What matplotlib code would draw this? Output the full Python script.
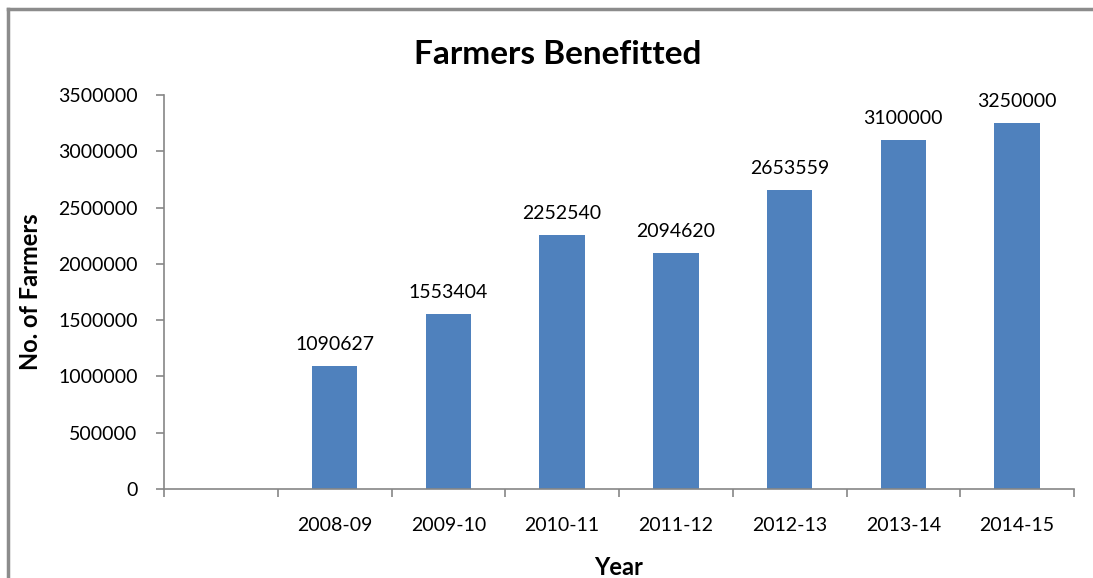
import numpy as np
import matplotlib.pyplot as plt
from matplotlib.lines import Line2D

plt.rcParams['font.family'] = ['Lato', 'DejaVu Sans']

# data
years = ['', '2008-09', '2009-10', '2010-11', '2011-12', '2012-13', '2013-14', '2014-15']
farmers = [0, 1090627, 1553404, 2252540, 2094620, 2653559, 3100000, 3250000]
yticks = [0, 500000, 1000000, 1500000, 2000000, 2500000, 3000000, 3500000]

fig = plt.figure(figsize=(10.93, 5.78), dpi=100)
ax = fig.add_axes([164 / 1093, 1 - 489 / 578, (1074 - 164) / 1093, (489 - 95) / 578])

x = np.arange(len(years))
shown = [i for i in x if years[i] != '']
bars = ax.bar([x[i] for i in shown], [farmers[i] for i in shown], width=0.4, color='#4f81bd')

for i in shown:
    ax.text(x[i], farmers[i] + 120000, str(farmers[i]), ha='center', va='bottom', fontsize=14)

ax.set_xlim(-0.5, len(years) - 0.5)
ax.set_ylim(0, 3500000)
ax.set_yticks(yticks)
ax.set_yticklabels([str(v) for v in yticks], fontsize=14)
ax.set_xticks(x)
ax.set_xticklabels(years, fontsize=14)
ax.tick_params(axis='x', length=0, pad=20)
ax.set_xticks(np.arange(-0.5, len(years)), minor=True)
ax.tick_params(axis='x', which='minor', length=6, color='#868686', width=1.2)
ax.tick_params(axis='y', length=6, color='#868686', width=1.2, pad=13)

for s in ['top', 'right']:
    ax.spines[s].set_visible(False)
for s in ['left', 'bottom']:
    ax.spines[s].set_color('#868686')
    ax.spines[s].set_linewidth(1.2)

ax.set_ylabel('No. of Farmers', fontsize=17, fontweight='bold')
ax.yaxis.set_label_coords(-0.134, 0.5)
ax.set_xlabel('Year', fontsize=17, fontweight='bold')
ax.xaxis.set_label_coords(0.499, -0.170)
fig.text(558 / 1093, 1 - 55 / 578, 'Farmers Benefitted', ha='center', va='center',
         fontsize=24, fontweight='bold')

# outer frame (only top and left visible in the crop)
fig.add_artist(Line2D([8 / 1093, 1], [1 - 9 / 578, 1 - 9 / 578], color='#8c8c8c', lw=2.5,
                      transform=fig.transFigure))
fig.add_artist(Line2D([8 / 1093, 8 / 1093], [0, 1 - 9 / 578], color='#8c8c8c', lw=2.5,
                      transform=fig.transFigure))

fig.savefig('out.png', dpi=100)
